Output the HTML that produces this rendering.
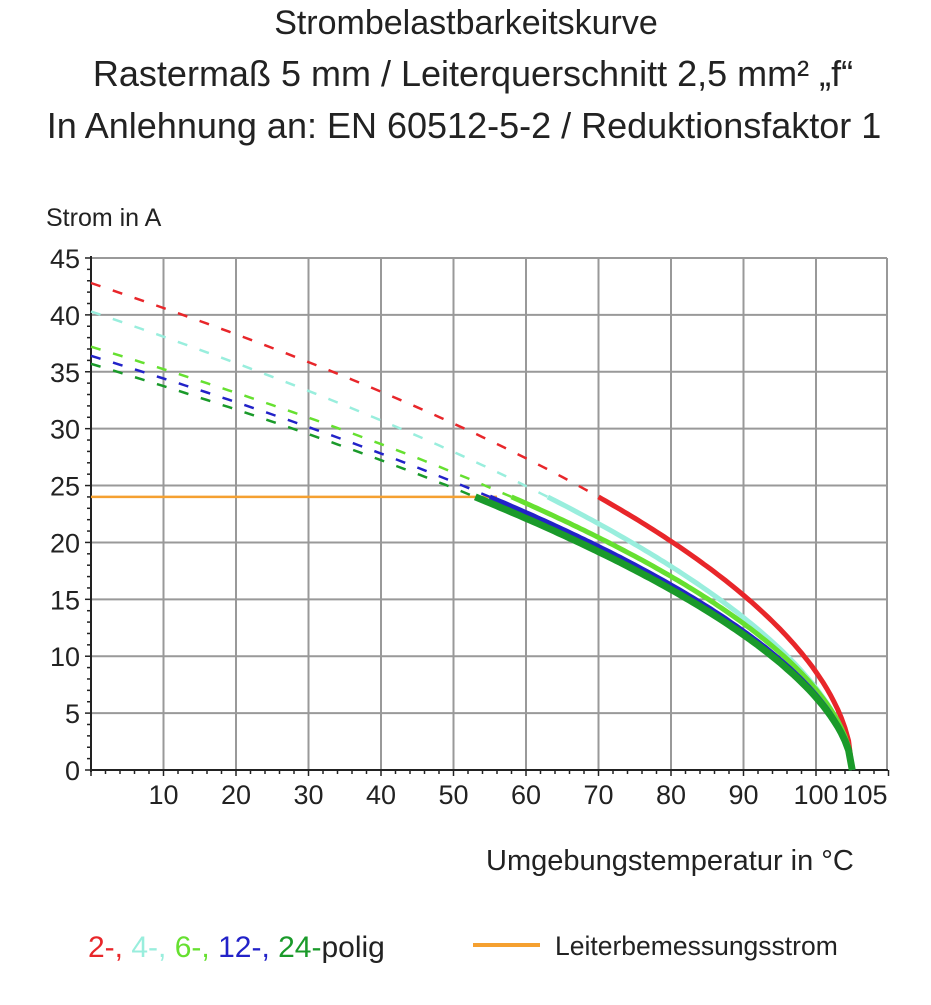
<!DOCTYPE html>
<html><head><meta charset="utf-8"><style>
body{margin:0;background:#fff;width:931px;height:1000px;overflow:hidden;font-family:"Liberation Sans",sans-serif}
</style></head><body>
<svg id="s" width="931" height="1000" xmlns="http://www.w3.org/2000/svg" font-family="Liberation Sans, sans-serif">
<g fill="#222" text-anchor="middle">
<text x="466" y="34" font-size="34">Strombelastbarkeitskurve</text>
<text x="473" y="86" font-size="36">Rastermaß 5 mm / Leiterquerschnitt 2,5 mm² „f“</text>
<text x="464" y="138" font-size="36">In Anlehnung an: EN 60512-5-2 / Reduktionsfaktor 1</text>
</g>
<text x="46" y="226" font-size="25" fill="#222">Strom in A</text>
<text x="486" y="870" font-size="29" fill="#222">Umgebungstemperatur in °C</text>
<text x="88" y="957" font-size="30"><tspan fill="#e8262a">2-, </tspan><tspan fill="#99eedd">4-, </tspan><tspan fill="#66e030">6-, </tspan><tspan fill="#2222c8">12-, </tspan><tspan fill="#1a9a2a">24-</tspan><tspan fill="#222">polig</tspan></text>
<line x1="473" y1="945" x2="540" y2="945" stroke="#f5a030" stroke-width="4"/>
<text x="555" y="955" font-size="26.5" fill="#222">Leiterbemessungsstrom</text>
<g id="g"></g>
</svg>
<script>
var g=document.getElementById('g'),h='';
function X(t){return 91+t*7.25}function Y(i){return 770-i*11.378}
for(var t=10;t<=100;t+=10)h+='<line x1="'+X(t)+'" y1="258" x2="'+X(t)+'" y2="770" stroke="#999" stroke-width="2"/>';
for(var i=5;i<=45;i+=5)h+='<line x1="91" y1="'+Y(i)+'" x2="887" y2="'+Y(i)+'" stroke="#999" stroke-width="2"/>';
h+='<line x1="887" y1="258" x2="887" y2="770" stroke="#999" stroke-width="2"/>';
h+='<line x1="91" y1="256" x2="91" y2="772" stroke="#222" stroke-width="2"/><line x1="90" y1="770" x2="888" y2="770" stroke="#222" stroke-width="2"/>';
for(var i=0;i<=45;i++)h+='<line x1="'+(i%5?87:85)+'" y1="'+Y(i)+'" x2="91" y2="'+Y(i)+'" stroke="#222" stroke-width="1.5"/>';
for(var t=0;t<=110;t+=2)h+='<line x1="'+X(t)+'" y1="770" x2="'+X(t)+'" y2="'+(t%10?774:776)+'" stroke="#222" stroke-width="1.5"/>';
for(var i=0;i<=45;i+=5)h+='<text x="80" y="'+(Y(i)+10)+'" font-size="27" text-anchor="end" fill="#222">'+i+'</text>';
for(var t=10;t<=100;t+=10)h+='<text x="'+X(t)+'" y="804" font-size="27" text-anchor="middle" fill="#222">'+t+'</text>';
h+='<text x="865" y="804" font-size="27" text-anchor="middle" fill="#222">105</text>';
h+='<line x1="91" y1="'+Y(24)+'" x2="'+X(56)+'" y2="'+Y(24)+'" stroke="#f5a030" stroke-width="2.5"/>';
var S=[["#1a9a2a",35.7,53,7],["#2222c8",36.4,55,5],["#66e030",37.2,58,5],["#99eedd",40.3,63,5],["#e8262a",42.8,70,5]];
function f(s,t){var p=Math.log(s[1]/24)/Math.log(105/(105-s[2]));return s[1]*Math.pow((105-t)/105,p);}
for(var k=S.length-1;k>=0;k--){var s=S[k],d='';
for(var t=0;t<=s[2];t+=1)d+=(t?'L':'M')+X(t).toFixed(1)+' '+Y(f(s,t)).toFixed(1);
h+='<path d="'+d+'" fill="none" stroke="'+s[0]+'" stroke-width="2.5" stroke-dasharray="10 13"/>';}
for(var k=S.length-1;k>=0;k--){var s=S[k],e='';
for(var t=s[2];t<105;t+=0.5)e+=(t==s[2]?'M':'L')+X(t).toFixed(1)+' '+Y(f(s,t)).toFixed(1);
e+='L'+X(105)+' '+Y(0);
h+='<path d="'+e+'" fill="none" stroke="'+s[0]+'" stroke-width="'+s[3]+'"/>';}
g.innerHTML=h;
</script>
</body></html>
